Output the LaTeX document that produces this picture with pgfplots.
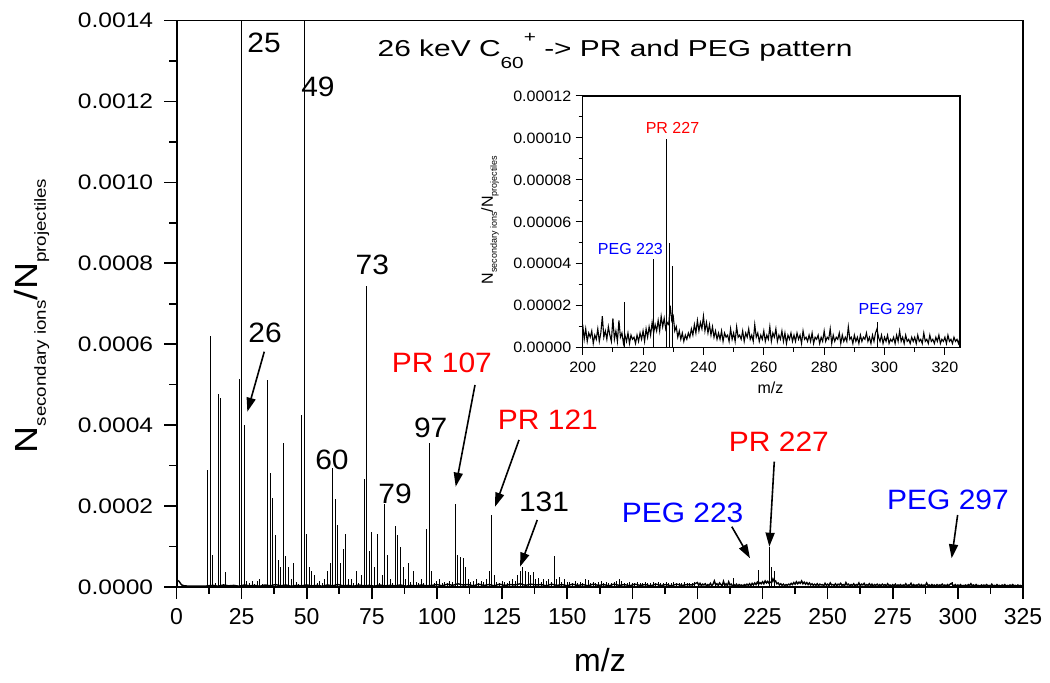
\documentclass[border=0pt]{standalone}
\usepackage{pgfplots}
\pgfplotsset{compat=1.18}
\usepackage{pgfplotstable}
\usepackage{fontspec}
\setmainfont{Liberation Sans}
\newfontfamily\fwide[FakeStretch=1.17]{Liberation Sans}
\newfontfamily\ftitle[FakeStretch=1.3]{Liberation Sans}
\newfontfamily\flab[FakeStretch=1.07]{Liberation Sans}
\usetikzlibrary{arrows.meta}

% peak sticks: m/z, N_sec/N_proj
\pgfplotstableread[row sep=\\]{
x y\\
12 290e-6\\ 13 620e-6\\ 14 80e-6\\ 15 10e-6\\ 16 476e-6\\ 17 468e-6\\ 18 8e-6\\ 19 38e-6\\
24 515e-6\\ 25 2500e-6\\ 26 400e-6\\ 27 15e-6\\ 28 10e-6\\ 29 15e-6\\ 30 8e-6\\ 31 15e-6\\ 32 20e-6\\ 33 8e-6\\ 34 6e-6\\
35 511e-6\\ 36 281e-6\\ 37 220e-6\\ 38 128e-6\\ 39 66e-6\\ 40 50e-6\\ 41 357e-6\\ 42 76e-6\\ 43 50e-6\\ 44 20e-6\\
45 60e-6\\ 46 12e-6\\ 47 8e-6\\ 48 426e-6\\ 49 2500e-6\\ 50 130e-6\\ 51 50e-6\\ 52 40e-6\\ 53 30e-6\\ 54 10e-6\\
55 15e-6\\ 56 10e-6\\ 57 20e-6\\ 58 40e-6\\ 59 60e-6\\ 60 294e-6\\ 61 218e-6\\ 62 153e-6\\ 63 60e-6\\ 64 93e-6\\
65 130e-6\\ 66 20e-6\\ 67 20e-6\\ 68 10e-6\\ 69 40e-6\\ 70 10e-6\\ 71 30e-6\\ 72 267e-6\\ 73 745e-6\\ 74 90e-6\\
75 137e-6\\ 76 50e-6\\ 77 130e-6\\ 78 10e-6\\ 79 30e-6\\ 80 204e-6\\ 81 80e-6\\ 82 20e-6\\ 83 10e-6\\ 84 150e-6\\
85 128e-6\\ 86 100e-6\\ 87 50e-6\\ 88 20e-6\\ 89 60e-6\\ 90 12e-6\\ 91 40e-6\\ 92 12e-6\\ 93 10e-6\\ 94 20e-6\\
95 10e-6\\ 96 143e-6\\ 97 356e-6\\ 98 40e-6\\ 99 10e-6\\ 100 15e-6\\ 101 20e-6\\ 102 10e-6\\ 103 12e-6\\ 104 10e-6\\
105 15e-6\\ 106 12e-6\\ 107 206e-6\\ 108 80e-6\\ 109 75e-6\\ 110 72e-6\\ 111 50e-6\\ 112 20e-6\\ 113 12e-6\\ 114 15e-6\\
115 20e-6\\ 116 10e-6\\ 117 15e-6\\ 118 12e-6\\ 119 20e-6\\ 120 40e-6\\ 121 177e-6\\ 122 30e-6\\ 123 12e-6\\ 124 10e-6\\
125 15e-6\\ 126 12e-6\\ 127 10e-6\\ 128 15e-6\\ 129 20e-6\\ 130 15e-6\\ 131 30e-6\\ 132 40e-6\\ 133 50e-6\\ 134 40e-6\\
135 38e-6\\ 136 30e-6\\ 137 38e-6\\ 138 20e-6\\ 139 22e-6\\ 140 12e-6\\ 141 20e-6\\ 142 15e-6\\ 143 20e-6\\ 144 12e-6\\
145 76e-6\\ 146 20e-6\\ 147 25e-6\\ 148 12e-6\\ 149 20e-6\\ 150 12e-6\\ 151 12e-6\\ 152 10e-6\\ 153 15e-6\\ 154 10e-6\\
155 12e-6\\ 156 10e-6\\ 157 20e-6\\ 158 18e-6\\ 159 10e-6\\ 160 12e-6\\ 161 10e-6\\ 162 12e-6\\ 163 15e-6\\ 164 10e-6\\
165 12e-6\\ 166 10e-6\\ 167 10e-6\\ 168 12e-6\\ 169 15e-6\\ 170 20e-6\\ 171 15e-6\\ 172 10e-6\\ 173 10e-6\\ 174 12e-6\\
175 10e-6\\ 176 10e-6\\ 177 12e-6\\ 178 10e-6\\ 179 10e-6\\ 180 12e-6\\ 181 10e-6\\ 182 10e-6\\ 183 12e-6\\ 184 10e-6\\
185 12e-6\\ 186 10e-6\\ 187 10e-6\\ 188 12e-6\\ 189 10e-6\\ 190 10e-6\\ 191 12e-6\\ 192 10e-6\\ 193 10e-6\\ 194 10e-6\\
195 12e-6\\ 196 10e-6\\ 197 10e-6\\ 198 10e-6\\ 199 12e-6\\
213.7 22e-6\\ 223.6 42.5e-6\\ 227.7 99.4e-6\\ 228.6 49.7e-6\\ 229.6 38.9e-6\\ 297.8 12.4e-6\\
}\sticks

% baseline / background signal
\pgfplotstableread[row sep=\\]{
x y\\
0 12e-6\\ 0.5 16e-6\\ 1 14e-6\\ 1.5 9e-6\\ 2 5e-6\\ 3 3e-6\\ 5 2e-6\\ 7 2e-6\\ 9 2e-6\\ 11 2e-6\\ 12 3e-6\\
14 4e-6\\ 16 2e-6\\ 18 5e-6\\ 20 3e-6\\ 22 4e-6\\ 24 2e-6\\ 26 5e-6\\ 28 3e-6\\ 30 4e-6\\ 32 2e-6\\ 34 5e-6\\
36 3e-6\\ 38 6e-6\\ 40 3e-6\\ 42 5e-6\\ 44 2e-6\\ 46 4e-6\\ 48 3e-6\\ 50 5e-6\\ 52 3e-6\\ 54 4e-6\\ 56 2e-6\\
58 5e-6\\ 60 3e-6\\ 62 6e-6\\ 64 3e-6\\ 66 4e-6\\ 68 2e-6\\ 70 5e-6\\ 72 3e-6\\ 74 4e-6\\ 76 2e-6\\ 78 5e-6\\
80 3e-6\\ 82 4e-6\\ 84 3e-6\\ 86 5e-6\\ 88 2e-6\\ 90 4e-6\\ 92 3e-6\\ 94 5e-6\\ 96 3e-6\\ 98 4e-6\\ 100 6e-6\\
102 3e-6\\ 104 7e-6\\ 106 4e-6\\ 108 8e-6\\ 110 5e-6\\ 112 6e-6\\ 114 3e-6\\ 116 7e-6\\ 118 4e-6\\ 120 6e-6\\
122 3e-6\\ 124 7e-6\\ 126 4e-6\\ 128 6e-6\\ 130 5e-6\\ 132 8e-6\\ 134 4e-6\\ 136 7e-6\\ 138 5e-6\\ 140 6e-6\\
142 3e-6\\ 144 7e-6\\ 146 4e-6\\ 148 6e-6\\ 150 3e-6\\ 152 7e-6\\ 154 4e-6\\ 156 6e-6\\ 158 3e-6\\ 160 7e-6\\
162 4e-6\\ 164 6e-6\\ 166 3e-6\\ 168 7e-6\\ 170 4e-6\\ 172 6e-6\\ 174 3e-6\\ 176 7e-6\\ 178 4e-6\\ 180 6e-6\\
182 3e-6\\ 184 7e-6\\ 186 4e-6\\ 188 6e-6\\ 190 3e-6\\ 192 7e-6\\ 194 4e-6\\ 196 6e-6\\ 198 5e-6\\
200 11e-6\\ 200.5 4e-6\\ 201 9e-6\\ 201.5 3e-6\\ 202 7e-6\\ 202.5 5e-6\\ 203 8e-6\\ 203.5 2e-6\\ 204 6e-6\\ 204.5 4e-6\\
205 9e-6\\ 205.5 3e-6\\ 206 7e-6\\ 206.5 15e-6\\ 207 5e-6\\ 207.5 8e-6\\ 208 4e-6\\ 208.5 10e-6\\ 209 6e-6\\ 209.5 3e-6\\
210 14e-6\\ 210.5 4e-6\\ 211 8e-6\\ 211.5 3e-6\\ 212 13e-6\\ 212.5 5e-6\\ 213 7e-6\\ 213.5 2e-6\\ 214 6e-6\\ 214.5 3e-6\\
215 7e-6\\ 215.5 2e-6\\ 216 6e-6\\ 216.5 4e-6\\ 217 5e-6\\ 217.5 2e-6\\ 218 6e-6\\ 218.5 3e-6\\ 219 7e-6\\ 219.5 4e-6\\
220 8e-6\\ 220.5 3e-6\\ 221 9e-6\\ 221.5 5e-6\\ 222 10e-6\\ 222.5 6e-6\\ 223 12e-6\\ 223.5 7e-6\\ 224 11e-6\\ 224.5 8e-6\\
225 13e-6\\ 225.5 8e-6\\ 226 15e-6\\ 226.5 10e-6\\ 227 14e-6\\ 227.5 9e-6\\ 228 12e-6\\ 228.5 11e-6\\ 229 20e-6\\ 229.5 13e-6\\
230 15e-6\\ 230.5 8e-6\\ 231 10e-6\\ 231.5 5e-6\\ 232 8e-6\\ 232.5 4e-6\\ 233 7e-6\\ 233.5 3e-6\\ 234 6e-6\\ 234.5 4e-6\\
235 7e-6\\ 235.5 5e-6\\ 236 9e-6\\ 236.5 6e-6\\ 237 11e-6\\ 237.5 7e-6\\ 238 13e-6\\ 238.5 8e-6\\ 239 12e-6\\ 239.5 9e-6\\
240 15e-6\\ 240.5 8e-6\\ 241 12e-6\\ 241.5 7e-6\\ 242 11e-6\\ 242.5 6e-6\\ 243 10e-6\\ 243.5 5e-6\\ 244 8e-6\\ 244.5 4e-6\\
245 7e-6\\ 245.5 4e-6\\ 246 8e-6\\ 246.5 3e-6\\ 247 7e-6\\ 247.5 5e-6\\ 248 6e-6\\ 248.5 3e-6\\ 249 9e-6\\ 249.5 4e-6\\
250 7e-6\\ 250.5 3e-6\\ 251 10e-6\\ 251.5 5e-6\\ 252 6e-6\\ 252.5 4e-6\\ 253 8e-6\\ 253.5 3e-6\\ 254 7e-6\\ 254.5 5e-6\\
255 9e-6\\ 255.5 4e-6\\ 256 6e-6\\ 256.5 3e-6\\ 257 11e-6\\ 257.5 5e-6\\ 258 7e-6\\ 258.5 3e-6\\ 259 6e-6\\ 259.5 4e-6\\
260 8e-6\\ 260.5 3e-6\\ 261 6e-6\\ 261.5 4e-6\\ 262 10e-6\\ 262.5 3e-6\\ 263 7e-6\\ 263.5 5e-6\\ 264 9e-6\\ 264.5 3e-6\\
265 6e-6\\ 265.5 4e-6\\ 266 8e-6\\ 266.5 3e-6\\ 267 7e-6\\ 267.5 2e-6\\ 268 6e-6\\ 268.5 4e-6\\ 269 7e-6\\ 269.5 3e-6\\
270 6e-6\\ 270.5 3e-6\\ 271 7e-6\\ 271.5 4e-6\\ 272 6e-6\\ 272.5 2e-6\\ 273 8e-6\\ 273.5 4e-6\\ 274 5e-6\\ 274.5 3e-6\\
275 6e-6\\ 275.5 3e-6\\ 276 7e-6\\ 276.5 2e-6\\ 277 5e-6\\ 277.5 4e-6\\ 278 6e-6\\ 278.5 2e-6\\ 279 5e-6\\ 279.5 3e-6\\
280 8e-6\\ 280.5 3e-6\\ 281 5e-6\\ 281.5 4e-6\\ 282 9e-6\\ 282.5 2e-6\\ 283 6e-6\\ 283.5 3e-6\\ 284 5e-6\\ 284.5 4e-6\\
285 7e-6\\ 285.5 2e-6\\ 286 6e-6\\ 286.5 3e-6\\ 287 5e-6\\ 287.5 3e-6\\ 288 10e-6\\ 288.5 4e-6\\ 289 5e-6\\ 289.5 2e-6\\
290 6e-6\\ 290.5 3e-6\\ 291 5e-6\\ 291.5 2e-6\\ 292 6e-6\\ 292.5 3e-6\\ 293 5e-6\\ 293.5 4e-6\\ 294 7e-6\\ 294.5 3e-6\\
295 5e-6\\ 295.5 2e-6\\ 296 6e-6\\ 296.5 3e-6\\ 297 7e-6\\ 297.5 9e-6\\ 298 5e-6\\ 298.5 3e-6\\ 299 6e-6\\ 299.5 2e-6\\
300 5e-6\\ 300.5 3e-6\\ 301 6e-6\\ 301.5 2e-6\\ 302 4e-6\\ 302.5 3e-6\\ 303 5e-6\\ 303.5 2e-6\\ 304 6e-6\\ 304.5 3e-6\\
305 8e-6\\ 305.5 3e-6\\ 306 5e-6\\ 306.5 2e-6\\ 307 6e-6\\ 307.5 3e-6\\ 308 4e-6\\ 308.5 2e-6\\ 309 5e-6\\ 309.5 3e-6\\
310 5e-6\\ 310.5 2e-6\\ 311 6e-6\\ 311.5 3e-6\\ 312 4e-6\\ 312.5 2e-6\\ 313 7e-6\\ 313.5 3e-6\\ 314 4e-6\\ 314.5 2e-6\\
315 6e-6\\ 315.5 3e-6\\ 316 4e-6\\ 316.5 2e-6\\ 317 5e-6\\ 317.5 3e-6\\ 318 6e-6\\ 318.5 2e-6\\ 319 4e-6\\ 319.5 3e-6\\
320 5e-6\\ 320.5 2e-6\\ 321 6e-6\\ 321.5 3e-6\\ 322 4e-6\\ 322.5 2e-6\\ 323 5e-6\\ 323.5 3e-6\\ 324 4e-6\\ 324.5 2e-6\\ 325 5e-6\\
}\noise

\tikzset{arr/.style={line width=0.8pt, -{Triangle[length=7pt,width=4.5pt]}}}

\begin{document}
\begin{tikzpicture}
\path[use as bounding box] (0pt,0pt) rectangle (525pt,341.5pt);
\begin{axis}[
  name=main, at={(88.25pt,48pt)}, anchor=south west,
  scale only axis, width=423.25pt, height=283.25pt,
  xmin=0, xmax=325, ymin=0, ymax=0.0014,
  axis x line*=bottom, axis y line*=box,
  xtick={0,25,...,325}, minor x tick num=1,
  ytick={0,0.0002,0.0004,0.0006,0.0008,0.0010,0.0012,0.0014}, minor y tick num=1,
  ytick pos=left, xtick pos=bottom,
  tick align=outside,
  major tick length=6pt, minor tick length=3.5pt,
  tick style={line width=0.8pt, black},
  axis line style={line width=1pt},
  scaled y ticks=false,
  every tick label/.append style={inner sep=0pt},
  xticklabel style={font=\fontsize{11.5}{13}\selectfont, anchor=north, yshift=-4.5pt,
    /pgf/number format/assume math mode=true},
  yticklabel style={font=\fwide\fontsize{10.5}{12}\selectfont, anchor=east, xshift=-5.5pt,
    /pgf/number format/.cd, fixed, fixed zerofill, precision=4, assume math mode=true},
  clip mode=individual,
]
\addplot[black, line width=0.7pt, mark=none] table {\noise};
\addplot[ycomb, black, line width=0.5pt, mark=none] table {\sticks};
\draw[line width=0.5pt] (rel axis cs:0,1) -- (rel axis cs:1,1);

\begin{scope}[every node/.style={font=\flab\fontsize{14}{16}\selectfont, inner sep=0pt}]
\node at (axis cs:33.6,0.0013456) {25};
\node at (axis cs:54.3,0.0012357) {49};
\node at (axis cs:34.0,0.000629) {26};
\node at (axis cs:59.7,0.0003139) {60};
\node at (axis cs:75.2,0.0007958) {73};
\node at (axis cs:83.9,0.0002298) {79};
\node at (axis cs:97.6,0.0003922) {97};
\node[text=red] at (axis cs:101.9,0.0005536) {PR 107};
\node[text=red] at (axis cs:142.6,0.0004127) {PR 121};
\node at (axis cs:141.1,0.00021) {131};
\node[text=blue] at (axis cs:194.3,0.0001829) {PEG 223};
\node[text=red] at (axis cs:231.3,0.0003591) {PR 227};
\node[text=blue] at (axis cs:296.2,0.000215) {PEG 297};
\end{scope}
\draw[arr] (axis cs:33.7,0.0005815) -- (axis cs:27.2,0.0004332);
\draw[arr] (axis cs:114.6,0.0004992) -- (axis cs:107.2,0.0002479);
\draw[arr] (axis cs:131.5,0.0003633) -- (axis cs:122.3,0.0001984);
\draw[arr] (axis cs:138.5,0.0001656) -- (axis cs:131.9,0.0000502);
\draw[arr] (axis cs:213.2,0.000149) -- (axis cs:220.2,0.0000709);
\draw[arr] (axis cs:229.5,0.0003097) -- (axis cs:227.6,0.0000996);
\draw[arr] (axis cs:299.9,0.0001779) -- (axis cs:297.6,0.0000709);

\node[anchor=base, inner sep=0pt, font=\ftitle\fontsize{11.5}{13}\selectfont] at (axis cs:168.4,0.0013105)
  {26 keV C\raisebox{-6pt}{\fontsize{8}{9}\selectfont 60}\raisebox{7pt}{\fontsize{8}{9}\selectfont +} -> PR and PEG pattern};
\node[rotate=90, inner sep=0pt, font=\fwide\fontsize{16}{18}\selectfont] at (axis cs:-55.5,0.00066973)
  {N\raisebox{-4pt}{\fontsize{8}{9}\selectfont secondary ions}/N\raisebox{-4pt}{\fontsize{8}{9}\selectfont projectiles}};
\node[inner sep=0pt, font=\fontsize{16}{18}\selectfont] at (axis cs:162.6,-0.0001804) {m/z};
\end{axis}

\begin{axis}[
  name=inset, at={(291.35pt,167.65pt)}, anchor=south west,
  scale only axis, width=188.65pt, height=125.85pt,
  xmin=200, xmax=325, ymin=0, ymax=0.00012,
  xtick={200,220,...,320}, minor x tick num=1,
  ytick={0,0.00002,0.00004,0.00006,0.00008,0.00010,0.00012}, minor y tick num=1,
  ytick pos=left, xtick pos=bottom,
  tick align=outside,
  major tick length=3.5pt, minor tick length=2pt,
  tick style={line width=0.5pt, black},
  axis line style={line width=0.6pt},
  scaled y ticks=false,
  every tick label/.append style={inner sep=0pt},
  xticklabel style={font=\flab\fontsize{7.5}{9}\selectfont, anchor=north, yshift=-3.5pt,
    /pgf/number format/assume math mode=true},
  yticklabel style={font=\flab\fontsize{7.5}{9}\selectfont, anchor=east, xshift=-2pt,
    /pgf/number format/.cd, fixed, fixed zerofill, precision=5, assume math mode=true},
  clip mode=individual,
  axis background/.style={fill=white},
]
\addplot[black, line width=0.55pt, mark=none, restrict x to domain=199:326] table {\noise};
\addplot[ycomb, black, line width=0.5pt, mark=none, restrict x to domain=199:326] table {\sticks};
\begin{scope}[every node/.style={font=\fontsize{8}{9}\selectfont, inner sep=0pt}]
\node[text=red] at (axis cs:229.75,0.000105) {PR 227};
\node[text=blue] at (axis cs:215.8,0.000047) {PEG 223};
\node[text=blue] at (axis cs:302.2,0.0000184) {PEG 297};
\node at (axis cs:262.2,-0.0000192) {m/z};
\node[rotate=90] at (axis cs:169.3,0.0000609)
  {N\raisebox{-2pt}{\fontsize{4.5}{5}\selectfont secondary ions}/N\raisebox{-2pt}{\fontsize{4.5}{5}\selectfont projectiles}};
\end{scope}
\end{axis}
\end{tikzpicture}
\end{document}
